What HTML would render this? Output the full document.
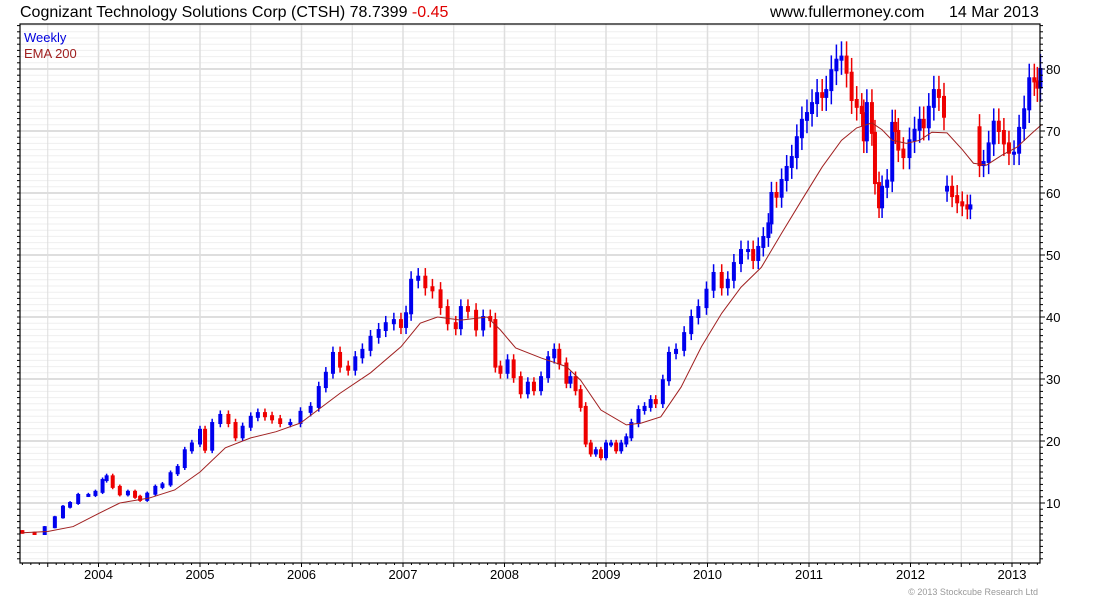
<!DOCTYPE html>
<html><head><meta charset="utf-8"><style>
body{margin:0;background:#fff;width:1100px;height:600px;overflow:hidden;font-family:"Liberation Sans",sans-serif}
svg text{font-family:"Liberation Sans",sans-serif}
</style></head><body>
<svg id="chart" width="1100" height="600">
<text x="20" y="17" font-size="16" fill="#000">Cognizant Technology Solutions Corp (CTSH) 78.7399 <tspan fill="#e00000">-0.45</tspan></text>
<text x="770" y="17" font-size="16" fill="#000">www.fullermoney.com</text>
<text x="949" y="17" font-size="16" fill="#000">14 Mar 2013</text>
<text x="1038" y="595" font-size="9" fill="#999" text-anchor="end">© 2013 Stockcube Research Ltd</text>
<g id="grid"></g>
<g id="bars"></g>
<g id="ema"></g>
<rect x="20" y="24" width="1020" height="539" fill="none" stroke="#000" stroke-width="1.2"/>
<g id="axes"></g>
<text x="24" y="42" font-size="13" fill="#0000dd">Weekly</text>
<text x="24" y="58" font-size="13" fill="#a02020">EMA 200</text>
</svg>
<script>
const dates=[2003.25,2003.37,2003.47,2003.57,2003.65,2003.72,2003.80,2003.90,2003.97,2004.04,2004.08,2004.14,2004.21,2004.29,2004.36,2004.41,2004.48,2004.56,2004.63,2004.71,2004.78,2004.85,2004.92,2005.00,2005.05,2005.12,2005.20,2005.28,2005.35,2005.42,2005.50,2005.57,2005.64,2005.71,2005.79,2005.89,2005.99,2006.09,2006.17,2006.24,2006.31,2006.38,2006.46,2006.53,2006.60,2006.68,2006.76,2006.83,2006.91,2006.98,2007.03,2007.08,2007.15,2007.22,2007.29,2007.37,2007.44,2007.52,2007.57,2007.64,2007.72,2007.79,2007.86,2007.91,2007.96,2008.03,2008.09,2008.16,2008.23,2008.29,2008.36,2008.43,2008.49,2008.54,2008.61,2008.65,2008.70,2008.75,2008.80,2008.85,2008.90,2008.95,2009.00,2009.05,2009.10,2009.15,2009.20,2009.25,2009.32,2009.38,2009.44,2009.49,2009.56,2009.62,2009.69,2009.77,2009.84,2009.91,2009.99,2010.06,2010.14,2010.20,2010.26,2010.33,2010.40,2010.45,2010.50,2010.55,2010.60,2010.63,2010.68,2010.73,2010.78,2010.83,2010.88,2010.93,2010.98,2011.03,2011.08,2011.13,2011.17,2011.22,2011.27,2011.32,2011.37,2011.42,2011.47,2011.52,2011.54,2011.57,2011.62,2011.65,2011.69,2011.72,2011.77,2011.82,2011.85,2011.88,2011.93,2011.99,2012.04,2012.09,2012.13,2012.18,2012.23,2012.28,2012.33,2012.62,2012.68,2012.72,2012.77,2012.82,2012.87,2012.92,2012.97,2013.02,2013.07,2013.12,2013.17,2013.22,2013.25,2013.28];
const closes=[5.2,5,6.1,7.7,9.4,10,11.3,11.3,11.8,13.7,14.3,12.6,11.4,11.8,11,10.5,11.5,12.6,13,14.8,15.8,18.5,19.6,21.8,18.6,22.9,24.2,22.9,20.6,22.3,23.9,24.5,24,23.5,22.9,22.9,24.7,25.5,28.7,31,34.2,32,31.5,33.5,34.7,36.8,37.9,39,39.5,38.4,40.6,46,46.5,44.8,44.3,41.6,39,38.2,41.6,41,38,40,39.5,32,31,33,30.3,27.7,29.4,28.2,30.3,33.5,34.7,32.5,29.4,30.3,28.2,25.5,19.6,18,18.5,17.4,19.6,19.6,18.5,19.6,20.6,22.9,25,25.5,26.6,26.1,29.8,34.2,34.7,37.4,40,41.6,44.4,47.1,44.8,46,48.7,50.8,50.8,49.2,51.3,52.9,55.1,60,59.4,62.1,64.2,65.8,69,71.8,72.9,74.5,76.1,75.5,76.6,79.8,81.5,82,79.4,75,73.9,72.9,68.5,74.5,69.7,61.6,57.7,61,62,71.3,70,67,65.8,68.5,70.2,71.8,70.6,73.9,76.6,75.5,72.3,70.6,64.5,65,68,71.5,70,68,66.5,66.5,70.5,73.5,78.5,78,77,80,79];
const clusterDates=[2012.36,2012.41,2012.46,2012.51,2012.56,2012.59];
const clusterCloses=[61,59.5,58.5,58,57.5,58];
const emaDates=[2003.25,2003.5,2003.75,2004.0,2004.21,2004.5,2004.75,2005.0,2005.25,2005.5,2005.75,2005.99,2006.38,2006.68,2006.98,2007.17,2007.34,2007.57,2007.83,2007.96,2008.11,2008.36,2008.61,2008.75,2008.95,2009.2,2009.35,2009.54,2009.74,2009.94,2010.14,2010.33,2010.53,2010.73,2010.93,2011.13,2011.32,2011.47,2011.62,2011.72,2011.82,2011.96,2012.09,2012.21,2012.36,2012.51,2012.62,2012.75,2012.9,2013.05,2013.2,2013.29];
const emaValues=[5.2,5.4,6.2,8.3,10,10.8,12.1,15,18.9,20.5,21.5,22.9,27.7,31,35.2,39,40,39.5,40,37.9,35,33.4,32,29.8,25,22.6,22.9,23.9,28.7,35.2,40.6,44.8,48,53.5,58.9,64.2,68.5,70.5,71.3,70.2,68.5,68,68.5,69.8,69.7,67,64.8,64.5,66.1,67.4,69.7,71];
const yearLabels=["2004","2005","2006","2007","2008","2009","2010","2011","2012","2013"];
const priceTicks=[10,20,30,40,50,60,70,80];

const NS="http://www.w3.org/2000/svg";
const L=20,R=1040,T=24,B=563;
function X(t){return 98.5+(t-2004)*101.5;}
function Y(v){return 503-(v-10)*6.2;}
function mk(tag,attrs,parent){const e=document.createElementNS(NS,tag);for(const k in attrs)e.setAttribute(k,attrs[k]);parent.appendChild(e);return e;}
const grid=document.getElementById('grid'),axes=document.getElementById('axes'),bars=document.getElementById('bars'),emaG=document.getElementById('ema');
for(let v=1;v<=87;v++){const y=Y(v);if(y<T||y>B)continue;
 const major=v%10===0;
 const g=mk('line',{x1:L,x2:R,y1:y,y2:y,stroke:major?'#bdbdbd':'#efefef','stroke-width':1},grid);
 
 
 const tl=mk('line',{x1:L-3,x2:L,y1:y,y2:y,stroke:'#000'},axes);
 
 
 const tr=mk('line',{x1:R,x2:R+(major?5:3),y1:y,y2:y,stroke:'#000'},axes);
 
 
}
priceTicks.forEach(v=>{const t=mk('text',{x:R+6,y:Y(v)+5,'font-size':13,fill:'#000'},axes);t.textContent=v;
 
 });
for(let t=2003;t<=2013.3;t+=0.5){const x=X(t);if(x<L||x>R)continue;
 const g=mk('line',{x1:x,x2:x,y1:T,y2:B,stroke:'#dedede','stroke-width':(t%1===0)?1.5:1},grid);
 
 }
for(let m=0;m<130;m++){const t=2003+m/12;const x=X(t);if(x<L||x>R)continue;
 const tk=mk('line',{x1:x,x2:x,y1:B,y2:B+(m%6===0?4:2),stroke:'#000'},axes);
 
 }
yearLabels.forEach(s=>{const t=mk('text',{x:X(+s),y:579,'font-size':13,'text-anchor':'middle',fill:'#000'},axes);t.textContent=s;
 
 });
function drawSeries(ds,cs,startOpen){
 for(let i=0;i<ds.length;i++){
  const c=cs[i],o=i===0?startOpen:cs[i-1];
  if(i>0&&ds[i]-ds[i-1]>0.2)continue;
  const hi=Math.max(o,c)*1.03,lo=Math.min(o,c)*0.97;
  const col=c>=o?'#0000ee':'#ee0000';
  const x=X(ds[i]);
  const w=mk('line',{x1:x,x2:x,y1:Y(hi),y2:Y(lo),stroke:col,'stroke-width':1.5},bars);
  
  
  const top=Y(Math.max(o,c)),bot=Y(Math.min(o,c));
  const r=mk('rect',{x:x-2,y:top-1,width:4,height:Math.max(3,bot-top+2),fill:col},bars);
  
  
 }
}
drawSeries(dates,closes,closes[0]*1.05);
drawSeries(clusterDates,clusterCloses,clusterCloses[0]*0.99);
const p=mk('polyline',{points:emaDates.map((d,i)=>X(d)+','+Y(emaValues[i])).join(' '),fill:'none',stroke:'#a02020','stroke-width':1},emaG);


</script>
</body></html>
